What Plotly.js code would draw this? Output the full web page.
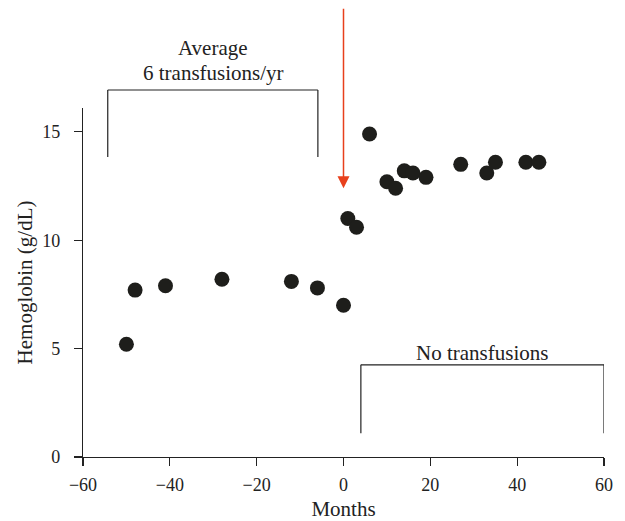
<!DOCTYPE html>
<html>
<head>
<meta charset="utf-8">
<script src="https://cdn.plot.ly/plotly-3.0.1.min.js"></script>
<style>html,body{margin:0;padding:0;background:#fff;}#chart{width:625px;height:521px;}</style>
</head>
<body>
<div id="chart"></div>
<script>
// Data
const months = [-50, -48, -41, -28, -12, -6, 0, 1, 3, 6, 10, 12, 14, 16, 19, 27, 33, 35, 42, 45];
const hemoglobin = [5.2, 7.7, 7.9, 8.2, 8.1, 7.8, 7.0, 11.0, 10.6, 14.9, 12.7, 12.4, 13.2, 13.1, 12.9, 13.5, 13.1, 13.6, 13.6, 13.6];
const xTicks = [-60, -40, -20, 0, 20, 40, 60];
const yTicks = [0, 5, 10, 15];
const transfusedPeriod = [-54.3, -5.9];
const noTransfusionPeriod = [4, 60];
const labels = {avg1: 'Average', avg2: '6 transfusions/yr', none: 'No transfusions', x: 'Months', y: 'Hemoglobin (g/dL)'};

const fontFam = 'Liberation Serif, Times New Roman, serif';
const yMax = 16.1;
const toPaper = v => v / yMax;

const trace = {
  x: months, y: hemoglobin, type: 'scatter', mode: 'markers',
  marker: {size: 15, color: '#1e1e1b'}, cliponaxis: false, hoverinfo: 'skip'
};

const lineStyle = {color: '#222', width: 1.2};
const shapes = [
  {type: 'line', xref: 'x', yref: 'paper', x0: transfusedPeriod[0], x1: transfusedPeriod[1], y0: 1.0516, y1: 1.0516, line: lineStyle},
  {type: 'line', xref: 'x', yref: 'paper', x0: transfusedPeriod[0], x1: transfusedPeriod[0], y0: 1.0516, y1: 0.8596, line: lineStyle},
  {type: 'line', xref: 'x', yref: 'paper', x0: transfusedPeriod[1], x1: transfusedPeriod[1], y0: 1.0516, y1: 0.8596, line: lineStyle},
  {type: 'line', xref: 'x', yref: 'paper', x0: noTransfusionPeriod[0], x1: noTransfusionPeriod[1], y0: toPaper(4.25), y1: toPaper(4.25), line: lineStyle},
  {type: 'line', xref: 'x', yref: 'paper', x0: noTransfusionPeriod[0], x1: noTransfusionPeriod[0], y0: toPaper(4.25), y1: toPaper(1.1), line: lineStyle},
  {type: 'line', xref: 'x', yref: 'paper', x0: noTransfusionPeriod[1], x1: noTransfusionPeriod[1], y0: toPaper(4.25), y1: toPaper(1.1), line: lineStyle}
];

const annFont = {family: fontFam, size: 21, color: '#222'};
const annotations = [
  {xref: 'x', yref: 'paper', x: -30, y: 1.172, yanchor: 'middle', text: labels.avg1, showarrow: false, font: annFont},
  {xref: 'x', yref: 'paper', x: -30, y: 1.100, yanchor: 'middle', text: labels.avg2, showarrow: false, font: annFont},
  {xref: 'x', yref: 'y', x: 32, y: 4.8, yanchor: 'middle', text: labels.none, showarrow: false, font: annFont},
  {xref: 'x', yref: 'y', x: 0, y: 12.4, text: '', showarrow: true, ax: 0, ay: -181,
   arrowcolor: '#e8401c', arrowwidth: 1.5, arrowhead: 2, arrowsize: 1.6, standoff: 0}
];

const tickFont = {family: fontFam, size: 18, color: '#222'};
const titleFont = {family: fontFam, size: 21, color: '#222'};

const layout = {
  width: 625, height: 521,
  margin: {l: 83, r: 21, t: 108, b: 64},
  paper_bgcolor: '#fff', plot_bgcolor: '#fff',
  showlegend: false,
  font: {family: fontFam, size: 18, color: '#222'},
  xaxis: {
    range: [-60, 60], tickvals: xTicks, ticktext: xTicks.map(v => v < 0 ? '\u2212' + Math.abs(v) : String(v)),
    showgrid: false, zeroline: false, showline: true, linecolor: '#222', linewidth: 1.2,
    ticks: 'outside', ticklen: 8, tickcolor: '#222', tickwidth: 1.2, ticklabelstandoff: 3,
    title: {text: labels.x, font: titleFont, standoff: 8},
    tickfont: tickFont
  },
  yaxis: {
    range: [0, yMax], tickvals: yTicks,
    showgrid: false, zeroline: false, showline: true, linecolor: '#222', linewidth: 1.2,
    ticks: 'outside', ticklen: 8, tickcolor: '#222', tickwidth: 1.2, ticklabelstandoff: 10,
    title: {text: labels.y, font: titleFont, standoff: 3},
    tickfont: tickFont
  },
  shapes: shapes,
  annotations: annotations
};

Plotly.newPlot('chart', [trace], layout, {displayModeBar: false, staticPlot: true});
</script>
</body>
</html>
